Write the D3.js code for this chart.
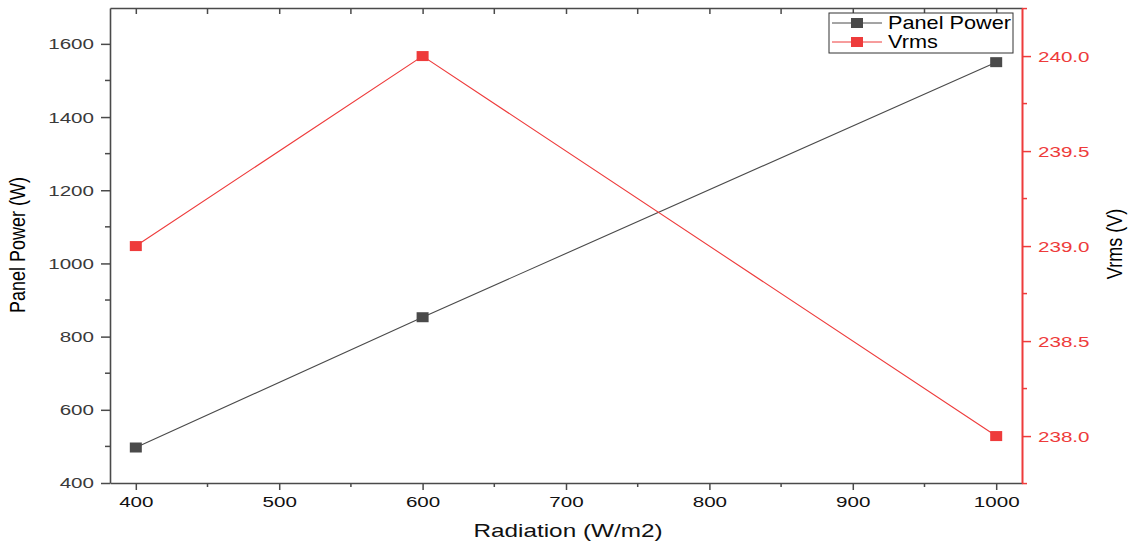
<!DOCTYPE html>
<html>
<head>
<meta charset="utf-8">
<script src="https://cdn.jsdelivr.net/npm/d3@7"></script>
<style>
  body { margin: 0; background: #fff; }
  svg text { font-family: "Liberation Sans", Arial, sans-serif; }
</style>
</head>
<body>
<script>
// datos
var radiacion = [400, 600, 1000];
var potencia = [497, 853, 1550];
var vrms = [239.0, 240.0, 238.0];
var ticksX = [400, 500, 600, 700, 800, 900, 1000];
var ticksIzq = [400, 600, 800, 1000, 1200, 1400, 1600];
var ticksDer = [238.0, 238.5, 239.0, 239.5, 240.0];
var nombresSeries = ["Panel Power", "Vrms"];

var width = 1129;
var height = 543;
var margen = { arriba: 8, abajo: 60, izquierda: 110, derecha: 107 };

var gris = "#4a4a4a";
var rojo = "#ee3b3b";
var estirar = 1.33; // el texto original está estirado en horizontal

var escalaX = d3.scaleLinear()
    .domain([382, 1018])
    .range([margen.izquierda, width - margen.derecha]);

var escalaY = d3.scaleLinear()
    .domain([400, 1698])
    .range([height - margen.abajo, margen.arriba]);

var escalaY2 = d3.scaleLinear()
    .domain([237.753, 240.253])
    .range([height - margen.abajo, margen.arriba]);

var svg = d3.select("body").append("svg")
    .attr("width", width)
    .attr("height", height);

var datos = radiacion.map(function(r, i) { return { x: r, p: potencia[i], v: vrms[i] }; });

// estilo común de los ejes
function estilo(g, color, colorTexto) {
    g.selectAll("path").attr("stroke", color).attr("stroke-width", 1.6);
    g.selectAll("line").attr("stroke", color).attr("stroke-width", 1.5);
    g.selectAll("text")
        .attr("fill", colorTexto)
        .style("font-size", "15.5px")
        .each(function() {
            var t = d3.select(this);
            var x = +t.attr("x") || 0;
            t.attr("x", x / estirar).attr("transform", "scale(" + estirar + ",1)");
        });
}

function menores(g, valores, escala, vertical, largo, color) {
    g.selectAll(".menor").data(valores).join("line")
        .attr("class", "menor")
        .attr(vertical ? "y1" : "x1", d => escala(d))
        .attr(vertical ? "y2" : "x2", d => escala(d))
        .attr(vertical ? "x1" : "y1", 0)
        .attr(vertical ? "x2" : "y2", largo)
        .attr("stroke", color).attr("stroke-width", 1.5);
}

// eje X abajo
var gX = svg.append("g")
    .attr("transform", "translate(0," + (height - margen.abajo) + ")")
    .call(d3.axisBottom(escalaX).tickValues(ticksX).tickFormat(d3.format("d"))
        .tickSize(7).tickPadding(6).tickSizeOuter(0));
estilo(gX, gris, "#111");
menores(gX, d3.range(450, 1001, 100), escalaX, false, 4, gris);

// eje superior
var gTop = svg.append("g")
    .attr("transform", "translate(0," + margen.arriba + ")")
    .call(d3.axisBottom(escalaX).tickValues(ticksX).tickSize(6).tickFormat("").tickSizeOuter(0));
estilo(gTop, gris, gris);
menores(gTop, d3.range(450, 1001, 100), escalaX, false, 6, gris);

// eje Y izquierdo
var gY = svg.append("g")
    .attr("transform", "translate(" + margen.izquierda + ",0)")
    .call(d3.axisLeft(escalaY).tickValues(ticksIzq).tickFormat(d3.format("d"))
        .tickSize(9).tickPadding(7).tickSizeOuter(0));
estilo(gY, gris, "#3a3a3a");
menores(gY, d3.range(500, 1700, 200), escalaY, true, -5, gris);

// eje Y derecho
var gY2 = svg.append("g")
    .attr("transform", "translate(" + (width - margen.derecha) + ",0)")
    .call(d3.axisRight(escalaY2).tickValues(ticksDer).tickFormat(d3.format(".1f"))
        .tickSize(9).tickPadding(7).tickSizeOuter(0));
estilo(gY2, rojo, rojo);
gY2.select("path").attr("stroke-width", 2);
menores(gY2, [237.75, 238.25, 238.75, 239.25, 239.75, 240.25], escalaY2, true, 5, rojo);

// líneas
svg.append("path")
    .datum(datos)
    .attr("fill", "none").attr("stroke", gris).attr("stroke-width", 1.1)
    .attr("d", d3.line().x(d => escalaX(d.x)).y(d => escalaY(d.p)));

svg.append("path")
    .datum(datos)
    .attr("fill", "none").attr("stroke", rojo).attr("stroke-width", 1.1)
    .attr("d", d3.line().x(d => escalaX(d.x)).y(d => escalaY2(d.v)));

// marcadores
svg.selectAll(".mp").data(datos).join("rect")
    .attr("x", d => escalaX(d.x) - 6).attr("y", d => escalaY(d.p) - 5)
    .attr("width", 12).attr("height", 10).attr("fill", gris);

svg.selectAll(".mv").data(datos).join("rect")
    .attr("x", d => escalaX(d.x) - 6).attr("y", d => escalaY2(d.v) - 5)
    .attr("width", 12).attr("height", 10).attr("fill", rojo);

// títulos de ejes
svg.append("text")
    .attr("transform", "translate(568,537) scale(1.28,1)")
    .attr("text-anchor", "middle").style("font-size", "19px").attr("fill", "#111")
    .text("Radiation (W/m2)");

svg.append("text")
    .attr("transform", "translate(25,245) rotate(-90) scale(1,1.25)")
    .attr("text-anchor", "middle").style("font-size", "18px").attr("fill", "#000")
    .text("Panel Power (W)");

svg.append("text")
    .attr("transform", "translate(1122,244) rotate(-90) scale(1,1.25)")
    .attr("text-anchor", "middle").style("font-size", "18px").attr("fill", "#000")
    .text("Vrms (V)");

// leyenda
var leyenda = svg.append("g").attr("transform", "translate(829,13)");
leyenda.append("rect")
    .attr("width", 184).attr("height", 40)
    .attr("fill", "#fff").attr("stroke", "#333").attr("stroke-width", 1);
var coloresSeries = [gris, rojo];
nombresSeries.forEach(function(n, i) {
    var y = 10 + i * 19;
    leyenda.append("line").attr("x1", 3).attr("x2", 53).attr("y1", y).attr("y2", y)
        .attr("stroke", coloresSeries[i]).attr("stroke-width", 1);
    leyenda.append("rect").attr("x", 22).attr("y", y - 5).attr("width", 12).attr("height", 10)
        .attr("fill", coloresSeries[i]);
    leyenda.append("text").attr("transform", "translate(59," + (y + 6) + ") scale(1.24,1)")
        .style("font-size", "17.5px").attr("fill", "#000").text(n);
});
</script>
</body>
</html>
